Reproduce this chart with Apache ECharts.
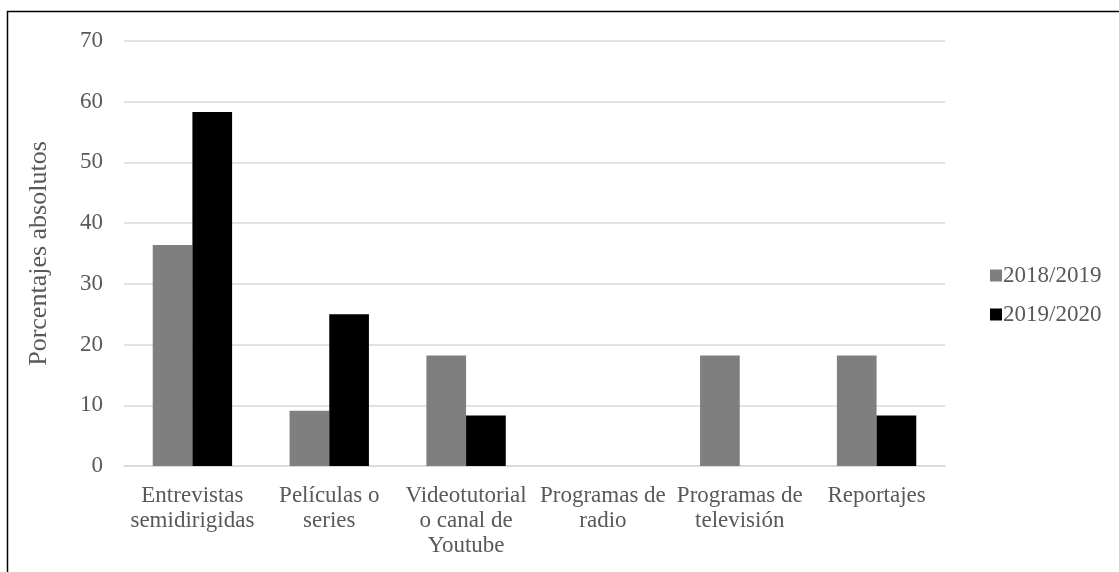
<!DOCTYPE html>
<html><head><meta charset="utf-8">
<script src="https://cdn.jsdelivr.net/npm/echarts@6/dist/echarts.min.js"></script>
<style>html,body{margin:0;padding:0;background:#fff}#c{width:1119px;height:572px}</style>
</head><body><div id="c"></div>
<script>
const categories = ['Entrevistas\nsemidirigidas', 'Películas o\nseries', 'Videotutorial\no canal de\nYoutube', 'Programas de\nradio', 'Programas de\ntelevisión', 'Reportajes'];
const seriesNames = ['2018/2019', '2019/2020'];
const values2018 = [36.4, 9.1, 18.2, 0, 18.2, 18.2];
const values2019 = [58.3, 25, 8.3, 0, 0, 8.3];
const yTicks = [0, 10, 20, 30, 40, 50, 60, 70];

const chart = echarts.init(document.getElementById('c'), null, {renderer: 'canvas'});
const font = 'Liberation Serif';
chart.setOption({
  animation: false,
  backgroundColor: '#fff',
  textStyle: {fontFamily: font},
  graphic: [{type: 'rect', shape: {x: 7.5, y: 11.5, width: 1200, height: 700}, style: {fill: 'none', stroke: '#000', lineWidth: 1.5}, silent: true}],
  grid: {left: 124, right: 174, top: 41, bottom: 106},
  legend: {
    orient: 'vertical', left: 985, top: 259, itemWidth: 12, itemHeight: 12, itemGap: 16,
    icon: 'rect', data: seriesNames,
    textStyle: {fontFamily: font, fontSize: 23, color: '#595959', padding: [0, 0, 0, -4]}
  },
  xAxis: {
    type: 'category', data: categories,
    axisLine: {lineStyle: {color: '#d9d9d9', width: 1.5}},
    axisTick: {show: false},
    axisLabel: {interval: 0, fontFamily: font, fontSize: 23, color: '#595959', lineHeight: 25, margin: 17}
  },
  yAxis: {
    type: 'value', min: yTicks[0], max: yTicks[yTicks.length - 1], interval: 10,
    name: 'Porcentajes absolutos', nameLocation: 'middle', nameGap: 72, nameRotate: 90,
    nameTextStyle: {fontFamily: font, fontSize: 26, color: '#595959'},
    axisLine: {show: false}, axisTick: {show: false},
    splitLine: {lineStyle: {color: '#d9d9d9', width: 1.5}},
    axisLabel: {fontFamily: font, fontSize: 23, color: '#595959', margin: 21}
  },
  series: [
    {name: seriesNames[0], type: 'bar', data: values2018, itemStyle: {color: '#7f7f7f'}, barGap: '0%', barCategoryGap: '42%'},
    {name: seriesNames[1], type: 'bar', data: values2019, itemStyle: {color: '#000000'}, barGap: '0%', barCategoryGap: '42%'}
  ]
});
</script></body></html>
